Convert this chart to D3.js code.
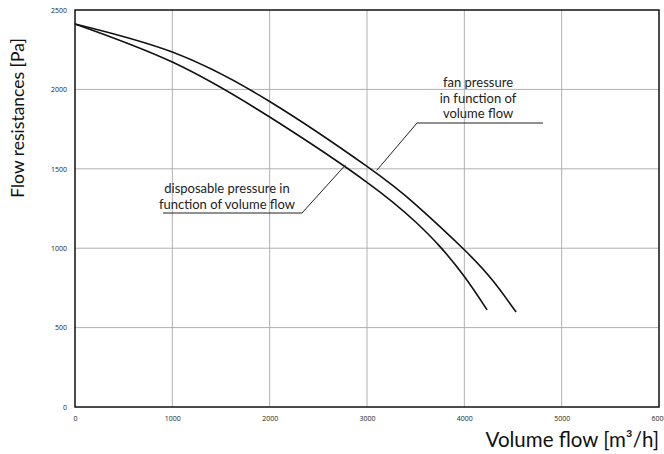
<!DOCTYPE html>
<html>
<head>
<meta charset="utf-8">
<script src="https://cdn.jsdelivr.net/npm/d3@7"></script>
<style>
  body { margin: 0; background: #fff; }
  text { font-family: Lato, 'Open Sans', sans-serif; }
</style>
</head>
<body>
<div id="chart"></div>
<script>
// values
const xTicks = [0, 1000, 2000, 3000, 4000, 5000, 6000];
const yTicks = [0, 500, 1000, 1500, 2000, 2500];

const fanFlow = [0, 1000, 2000, 3000, 3500, 4000, 4300, 4532];
const fanPressure = [2412, 2235, 1924, 1515, 1275, 990, 790, 598];

const dispFlow = [0, 1000, 2000, 3000, 3500, 3750, 4000, 4234];
const dispPressure = [2412, 2172, 1826, 1415, 1165, 1010, 822, 612];

const width = 664;
const height = 454;
const margin = { top: 10, right: 5, bottom: 47, left: 75 };

const svg = d3.select("#chart").append("svg")
  .attr("width", width)
  .attr("height", height);

const x = d3.scaleLinear().domain([0, 6000]).range([margin.left, width - margin.right]);
const y = d3.scaleLinear().domain([0, 2500]).range([height - margin.bottom, margin.top]);

// grid lines
svg.append("g")
  .selectAll("line")
  .data(xTicks.slice(1, -1))
  .join("line")
  .attr("x1", d => x(d)).attr("x2", d => x(d))
  .attr("y1", y(0)).attr("y2", y(2500))
  .attr("stroke", "#b0b0b0")
  .attr("stroke-width", 1);

svg.append("g")
  .selectAll("line")
  .data(yTicks.slice(1, -1))
  .join("line")
  .attr("x1", x(0)).attr("x2", x(6000))
  .attr("y1", d => y(d)).attr("y2", d => y(d))
  .attr("stroke", "#b0b0b0")
  .attr("stroke-width", 1);

// axes (labels only, frame drawn separately)
const xAxis = svg.append("g")
  .attr("transform", `translate(0,${y(0)})`)
  .call(d3.axisBottom(x).tickValues(xTicks).tickFormat(d3.format("d")).tickSize(0).tickPadding(9));
const yAxis = svg.append("g")
  .attr("transform", `translate(${x(0)},0)`)
  .call(d3.axisLeft(y).tickValues(yTicks).tickFormat(d3.format("d")).tickSize(0).tickPadding(8));

[xAxis, yAxis].forEach(a => {
  a.select(".domain").remove();
  a.selectAll("text")
    .style("font-family", "'Open Sans', sans-serif")
    .style("font-size", "7px")
    .attr("fill", "#222");
});

// plot frame
svg.append("rect")
  .attr("x", x(0)).attr("y", y(2500))
  .attr("width", x(6000) - x(0))
  .attr("height", y(0) - y(2500))
  .attr("fill", "none")
  .attr("stroke", "#111")
  .attr("stroke-width", 1.5);

// curves
const line = d3.line()
  .x(d => x(d[0]))
  .y(d => y(d[1]))
  .curve(d3.curveNatural);

svg.append("path")
  .datum(d3.zip(fanFlow, fanPressure))
  .attr("d", line)
  .attr("fill", "none")
  .attr("stroke", "#111")
  .attr("stroke-width", 1.6);

svg.append("path")
  .datum(d3.zip(dispFlow, dispPressure))
  .attr("d", line)
  .attr("fill", "none")
  .attr("stroke", "#111")
  .attr("stroke-width", 1.6);

// annotation: text lines, underline, leader line to the curve
const addNote = (lines, cx, cy, lineH, under, leaderEnd) => {
  const g = svg.append("g");
  g.selectAll("text")
    .data(lines)
    .join("text")
    .attr("x", cx)
    .attr("y", (_, i) => cy + i * lineH)
    .attr("text-anchor", "middle")
    .style("font-size", "13px")
    .attr("fill", "#222")
    .text(d => d);
  g.append("polyline")
    .attr("points", under.concat([leaderEnd]).map(p => p.join(",")).join(" "))
    .attr("fill", "none")
    .attr("stroke", "#222")
    .attr("stroke-width", 1);
};

addNote(["fan pressure", "in function of", "volume flow"], 478, 87, 15.5,
  [[543, 123], [417, 123]], [x(3100), y(1490)]);

addNote(["disposable pressure in", "function of volume flow"], 227, 193, 15.5,
  [[163, 213], [302, 213]], [x(2780), y(1525)]);

// axis titles
svg.append("text")
  .attr("transform", "translate(24,118) rotate(-90)")
  .attr("text-anchor", "middle")
  .style("font-size", "17.5px")
  .attr("fill", "#111")
  .text("Flow resistances [Pa]");

svg.append("text")
  .attr("x", x(6000))
  .attr("y", 447)
  .attr("text-anchor", "end")
  .style("font-size", "20.5px")
  .attr("fill", "#111")
  .text("Volume flow [m³/h]");
</script>
</body>
</html>
